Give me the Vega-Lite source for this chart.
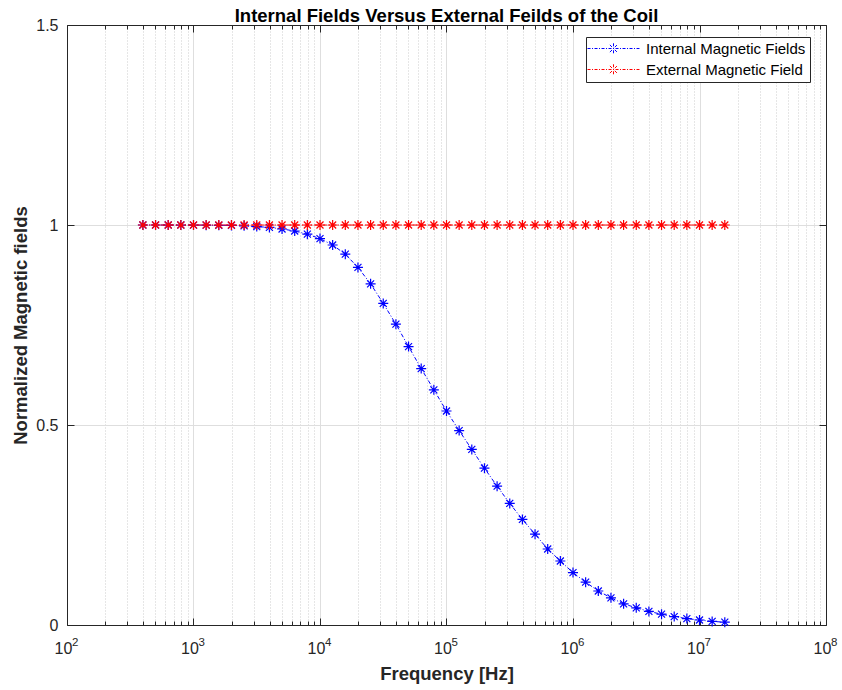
{
  "$schema": "https://vega.github.io/schema/vega-lite/v6.json",
  "autosize": {"type": "none"},
  "padding": {"left": 67, "top": 25, "right": 16, "bottom": 65},
  "width": 759,
  "height": 600,
  "background": "white",
  "config": {
    "font": "Liberation Sans",
    "view": {"stroke": null},
    "axis": {"labelFont": "Liberation Sans", "titleFont": "Liberation Sans"}
  },
  "title": {
    "text": "Internal Fields Versus External Feilds of the Coil",
    "font": "Liberation Sans",
    "fontSize": 18.5,
    "fontWeight": "bold",
    "color": "#000000",
    "anchor": "middle",
    "offset": 6,
    "dy": 14
  },
  "data": {
    "values": [
      {"f": 398.1, "v": 1.0, "s": "Internal Magnetic Fields"},
      {"f": 501.2, "v": 1.0, "s": "Internal Magnetic Fields"},
      {"f": 631.0, "v": 0.9999, "s": "Internal Magnetic Fields"},
      {"f": 794.3, "v": 0.9999, "s": "Internal Magnetic Fields"},
      {"f": 1000, "v": 0.9998, "s": "Internal Magnetic Fields"},
      {"f": 1258.9, "v": 0.9996, "s": "Internal Magnetic Fields"},
      {"f": 1584.9, "v": 0.9993, "s": "Internal Magnetic Fields"},
      {"f": 1995.3, "v": 0.999, "s": "Internal Magnetic Fields"},
      {"f": 2511.9, "v": 0.998, "s": "Internal Magnetic Fields"},
      {"f": 3162.3, "v": 0.996, "s": "Internal Magnetic Fields"},
      {"f": 3981.1, "v": 0.994, "s": "Internal Magnetic Fields"},
      {"f": 5011.9, "v": 0.99, "s": "Internal Magnetic Fields"},
      {"f": 6309.6, "v": 0.985, "s": "Internal Magnetic Fields"},
      {"f": 7943.3, "v": 0.977, "s": "Internal Magnetic Fields"},
      {"f": 10000, "v": 0.966, "s": "Internal Magnetic Fields"},
      {"f": 12589, "v": 0.95, "s": "Internal Magnetic Fields"},
      {"f": 15849, "v": 0.927, "s": "Internal Magnetic Fields"},
      {"f": 19953, "v": 0.894, "s": "Internal Magnetic Fields"},
      {"f": 25119, "v": 0.853, "s": "Internal Magnetic Fields"},
      {"f": 31623, "v": 0.804, "s": "Internal Magnetic Fields"},
      {"f": 39811, "v": 0.752, "s": "Internal Magnetic Fields"},
      {"f": 50119, "v": 0.696, "s": "Internal Magnetic Fields"},
      {"f": 63096, "v": 0.641, "s": "Internal Magnetic Fields"},
      {"f": 79433, "v": 0.588, "s": "Internal Magnetic Fields"},
      {"f": 100000, "v": 0.535, "s": "Internal Magnetic Fields"},
      {"f": 125893, "v": 0.486, "s": "Internal Magnetic Fields"},
      {"f": 158489, "v": 0.439, "s": "Internal Magnetic Fields"},
      {"f": 199526, "v": 0.392, "s": "Internal Magnetic Fields"},
      {"f": 251189, "v": 0.347, "s": "Internal Magnetic Fields"},
      {"f": 316228, "v": 0.304, "s": "Internal Magnetic Fields"},
      {"f": 398107, "v": 0.264, "s": "Internal Magnetic Fields"},
      {"f": 501187, "v": 0.227, "s": "Internal Magnetic Fields"},
      {"f": 630957, "v": 0.19, "s": "Internal Magnetic Fields"},
      {"f": 794328, "v": 0.16, "s": "Internal Magnetic Fields"},
      {"f": 1000000, "v": 0.131, "s": "Internal Magnetic Fields"},
      {"f": 1258925, "v": 0.107, "s": "Internal Magnetic Fields"},
      {"f": 1584893, "v": 0.085, "s": "Internal Magnetic Fields"},
      {"f": 1995262, "v": 0.068, "s": "Internal Magnetic Fields"},
      {"f": 2511886, "v": 0.053, "s": "Internal Magnetic Fields"},
      {"f": 3162278, "v": 0.043, "s": "Internal Magnetic Fields"},
      {"f": 3981072, "v": 0.034, "s": "Internal Magnetic Fields"},
      {"f": 5011872, "v": 0.027, "s": "Internal Magnetic Fields"},
      {"f": 6309573, "v": 0.021, "s": "Internal Magnetic Fields"},
      {"f": 7943282, "v": 0.016, "s": "Internal Magnetic Fields"},
      {"f": 10000000, "v": 0.0125, "s": "Internal Magnetic Fields"},
      {"f": 12589254, "v": 0.009, "s": "Internal Magnetic Fields"},
      {"f": 15848932, "v": 0.007, "s": "Internal Magnetic Fields"},
      {"f": 398.1, "v": 1, "s": "External Magnetic Field"},
      {"f": 501.2, "v": 1, "s": "External Magnetic Field"},
      {"f": 631.0, "v": 1, "s": "External Magnetic Field"},
      {"f": 794.3, "v": 1, "s": "External Magnetic Field"},
      {"f": 1000, "v": 1, "s": "External Magnetic Field"},
      {"f": 1258.9, "v": 1, "s": "External Magnetic Field"},
      {"f": 1584.9, "v": 1, "s": "External Magnetic Field"},
      {"f": 1995.3, "v": 1, "s": "External Magnetic Field"},
      {"f": 2511.9, "v": 1, "s": "External Magnetic Field"},
      {"f": 3162.3, "v": 1, "s": "External Magnetic Field"},
      {"f": 3981.1, "v": 1, "s": "External Magnetic Field"},
      {"f": 5011.9, "v": 1, "s": "External Magnetic Field"},
      {"f": 6309.6, "v": 1, "s": "External Magnetic Field"},
      {"f": 7943.3, "v": 1, "s": "External Magnetic Field"},
      {"f": 10000, "v": 1, "s": "External Magnetic Field"},
      {"f": 12589, "v": 1, "s": "External Magnetic Field"},
      {"f": 15849, "v": 1, "s": "External Magnetic Field"},
      {"f": 19953, "v": 1, "s": "External Magnetic Field"},
      {"f": 25119, "v": 1, "s": "External Magnetic Field"},
      {"f": 31623, "v": 1, "s": "External Magnetic Field"},
      {"f": 39811, "v": 1, "s": "External Magnetic Field"},
      {"f": 50119, "v": 1, "s": "External Magnetic Field"},
      {"f": 63096, "v": 1, "s": "External Magnetic Field"},
      {"f": 79433, "v": 1, "s": "External Magnetic Field"},
      {"f": 100000, "v": 1, "s": "External Magnetic Field"},
      {"f": 125893, "v": 1, "s": "External Magnetic Field"},
      {"f": 158489, "v": 1, "s": "External Magnetic Field"},
      {"f": 199526, "v": 1, "s": "External Magnetic Field"},
      {"f": 251189, "v": 1, "s": "External Magnetic Field"},
      {"f": 316228, "v": 1, "s": "External Magnetic Field"},
      {"f": 398107, "v": 1, "s": "External Magnetic Field"},
      {"f": 501187, "v": 1, "s": "External Magnetic Field"},
      {"f": 630957, "v": 1, "s": "External Magnetic Field"},
      {"f": 794328, "v": 1, "s": "External Magnetic Field"},
      {"f": 1000000, "v": 1, "s": "External Magnetic Field"},
      {"f": 1258925, "v": 1, "s": "External Magnetic Field"},
      {"f": 1584893, "v": 1, "s": "External Magnetic Field"},
      {"f": 1995262, "v": 1, "s": "External Magnetic Field"},
      {"f": 2511886, "v": 1, "s": "External Magnetic Field"},
      {"f": 3162278, "v": 1, "s": "External Magnetic Field"},
      {"f": 3981072, "v": 1, "s": "External Magnetic Field"},
      {"f": 5011872, "v": 1, "s": "External Magnetic Field"},
      {"f": 6309573, "v": 1, "s": "External Magnetic Field"},
      {"f": 7943282, "v": 1, "s": "External Magnetic Field"},
      {"f": 10000000, "v": 1, "s": "External Magnetic Field"},
      {"f": 12589254, "v": 1, "s": "External Magnetic Field"},
      {"f": 15848932, "v": 1, "s": "External Magnetic Field"}
    ]
  },
  "resolve": {"axis": {"x": "independent", "y": "independent"}},
  "layer": [
    {
      "transform": [{"filter": "datum.s === 'Internal Magnetic Fields'"}],
      "mark": {
        "type": "line",
        "strokeWidth": 1,
        "strokeDash": [4, 2, 1, 2],
        "point": {"shape": "M0,-1L0,1M-1,0L1,0M-0.7,-0.7L0.7,0.7M-0.7,0.7L0.7,-0.7", "filled": false, "size": 100, "strokeWidth": 1.2}
      },
      "encoding": {
        "x": {
          "field": "f", "type": "quantitative",
          "scale": {"type": "log", "domain": [100, 100000000], "nice": false},
          "axis": {
            "orient": "bottom",
            "title": "Frequency [Hz]",
            "titleFontSize": 18.5,
            "titleFontWeight": "bold",
            "titleColor": "#262626",
            "titlePadding": 5,
            "values": [100,200,300,400,500,600,700,800,900,1000,2000,3000,4000,5000,6000,7000,8000,9000,10000,20000,30000,40000,50000,60000,70000,80000,90000,100000,200000,300000,400000,500000,600000,700000,800000,900000,1000000,2000000,3000000,4000000,5000000,6000000,7000000,8000000,9000000,10000000,20000000,30000000,40000000,50000000,60000000,70000000,80000000,90000000,100000000],
            "labelExpr": "abs(log(datum.value)/LN10 - round(log(datum.value)/LN10)) < 0.000001 ? '10' : ''",
            "labelFontSize": 16,
            "labelColor": "#262626",
            "labelOverlap": false,
            "labelFlush": false,
            "labelBound": false,
            "labelOffset": -4,
            "labelPadding": 22,
            "domainColor": "#262626",
            "tickColor": "#262626",
            "tickSize": {"condition": {"test": "abs(log(datum.value)/LN10 - round(log(datum.value)/LN10)) < 0.000001", "value": -7}, "value": -4},
            "grid": true,
            "gridColor": {"condition": {"test": "abs(log(datum.value)/LN10 - round(log(datum.value)/LN10)) < 0.000001", "value": "#dedede"}, "value": "#cccccc"},
            "gridDash": {"condition": {"test": "abs(log(datum.value)/LN10 - round(log(datum.value)/LN10)) < 0.000001", "value": []}, "value": [1, 2]},
            "gridWidth": 1
          }
        },
        "y": {
          "field": "v", "type": "quantitative",
          "scale": {"domain": [0, 1.5], "nice": false},
          "axis": {
            "orient": "left",
            "title": "Normalized Magnetic fields",
            "titleFontSize": 18.5,
            "titleFontWeight": "bold",
            "titleColor": "#262626",
            "titlePadding": 5,
            "values": [0, 0.5, 1, 1.5],
            "format": "~g",
            "labelFontSize": 16,
            "labelColor": "#262626",
            "labelPadding": 16,
            "domainColor": "#262626",
            "tickColor": "#262626",
            "tickSize": -7,
            "grid": true,
            "gridColor": "#dedede",
            "gridWidth": 1
          }
        },
        "color": {
          "field": "s", "type": "nominal",
          "scale": {"domain": ["Internal Magnetic Fields", "External Magnetic Field"], "range": ["#0000ff", "#ff0000"]},
          "legend": {
            "title": null,
            "orient": "none",
            "legendX": 519,
            "legendY": 12,
            "direction": "vertical",
            "fillColor": "white",
            "strokeColor": "#262626",
            "padding": 4,
            "symbolType": "M-5,0L5,0M0,-1L0,1M-0.7,-0.7L0.7,0.7M-0.7,0.7L0.7,-0.7",
            "symbolSize": 108,
            "symbolStrokeWidth": 1,
            "symbolDash": [3, 1.5, 1, 1.5],
            "symbolFillColor": "transparent",
            "symbolOffset": 16,
            "labelOffset": 25,
            "labelFontSize": 15,
            "labelColor": "#000000",
            "labelFont": "Liberation Sans",
            "rowPadding": 5
          }
        }
      }
    },
    {
      "transform": [{"filter": "datum.s === 'External Magnetic Field'"}],
      "mark": {
        "type": "line",
        "strokeWidth": 1,
        "strokeDash": [4, 2, 1, 2],
        "point": {"shape": "M0,-1L0,1M-1,0L1,0M-0.7,-0.7L0.7,0.7M-0.7,0.7L0.7,-0.7", "filled": false, "size": 100, "strokeWidth": 1.2}
      },
      "encoding": {
        "x": {
          "field": "f", "type": "quantitative",
          "scale": {"type": "log", "domain": [100, 100000000], "nice": false},
          "axis": {
            "orient": "top",
            "title": null,
            "labels": false,
            "grid": false,
            "values": [100,200,300,400,500,600,700,800,900,1000,2000,3000,4000,5000,6000,7000,8000,9000,10000,20000,30000,40000,50000,60000,70000,80000,90000,100000,200000,300000,400000,500000,600000,700000,800000,900000,1000000,2000000,3000000,4000000,5000000,6000000,7000000,8000000,9000000,10000000,20000000,30000000,40000000,50000000,60000000,70000000,80000000,90000000,100000000],
            "domainColor": "#262626",
            "tickColor": "#262626",
            "tickSize": {"condition": {"test": "abs(log(datum.value)/LN10 - round(log(datum.value)/LN10)) < 0.000001", "value": -7}, "value": -4}
          }
        },
        "y": {
          "field": "v", "type": "quantitative",
          "scale": {"domain": [0, 1.5], "nice": false},
          "axis": {
            "orient": "right",
            "title": null,
            "labels": false,
            "grid": false,
            "values": [0, 0.5, 1, 1.5],
            "domainColor": "#262626",
            "tickColor": "#262626",
            "tickSize": -7
          }
        },
        "color": {
          "field": "s", "type": "nominal",
          "scale": {"domain": ["Internal Magnetic Fields", "External Magnetic Field"], "range": ["#0000ff", "#ff0000"]}
        }
      }
    },
    {
      "data": {
        "values": [
          {"f": 100, "v": 0, "e": "2"},
          {"f": 1000, "v": 0, "e": "3"},
          {"f": 10000, "v": 0, "e": "4"},
          {"f": 100000, "v": 0, "e": "5"},
          {"f": 1000000, "v": 0, "e": "6"},
          {"f": 10000000, "v": 0, "e": "7"},
          {"f": 100000000, "v": 0, "e": "8"}
        ]
      },
      "mark": {"type": "text", "align": "left", "baseline": "alphabetic", "dx": 5, "dy": 21, "fontSize": 11.5, "font": "Liberation Sans", "color": "#262626"},
      "encoding": {
        "x": {"field": "f", "type": "quantitative", "scale": {"type": "log", "domain": [100, 100000000], "nice": false}, "axis": null},
        "y": {"field": "v", "type": "quantitative", "scale": {"domain": [0, 1.5], "nice": false}, "axis": null},
        "text": {"field": "e", "type": "nominal"}
      }
    }
  ]
}
